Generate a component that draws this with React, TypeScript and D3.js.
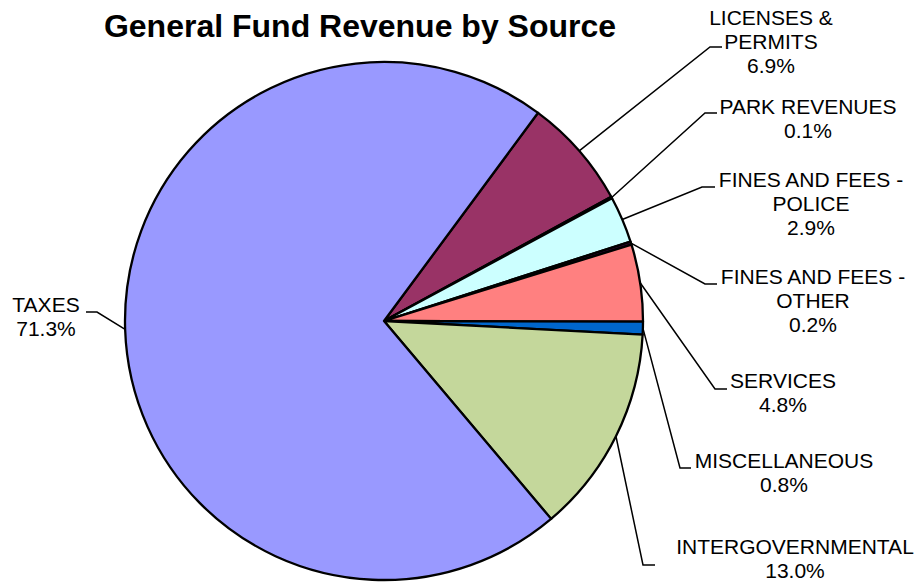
import React from "react";
import * as d3 from "d3";

const categories = [
  "LICENSES & PERMITS",
  "PARK REVENUES",
  "FINES AND FEES - POLICE",
  "FINES AND FEES - OTHER",
  "SERVICES",
  "MISCELLANEOUS",
  "INTERGOVERNMENTAL",
  "TAXES",
];
const values = [6.9, 0.1, 2.9, 0.2, 4.8, 0.8, 13.0, 71.3];
const colors = ["#993366", "#FFFFCC", "#CCFFFF", "#330033", "#FF8080", "#0066CC", "#C4D79B", "#9999FF"];
const labelLines = [
  ["LICENSES &", "PERMITS"],
  ["PARK REVENUES"],
  ["FINES AND FEES -", "POLICE"],
  ["FINES AND FEES -", "OTHER"],
  ["SERVICES"],
  ["MISCELLANEOUS"],
  ["INTERGOVERNMENTAL"],
  ["TAXES"],
];

// layout of labels: text center x, first baseline y, elbow point, horizontal end
const labelLayout = [
  { tx: 771, ty: 25, ex: 710, ey: 47, hx: 722 },
  { tx: 808, ty: 114, ex: 705, ey: 113, hx: 717 },
  { tx: 811, ty: 187, ex: 702, ey: 187, hx: 715 },
  { tx: 813, ty: 284, ex: 705, ey: 284, hx: 717 },
  { tx: 783, ty: 388, ex: 715, ey: 389, hx: 727 },
  { tx: 784, ty: 468, ex: 680, ey: 468, hx: 691 },
  { tx: 795, ty: 554, ex: 643, ey: 565, hx: 655 },
  { tx: 46, ty: 312, ex: 97, ey: 312, hx: 86 },
];

const W = 921;
const H = 584;
const cx = 384;
const cy = 321;
const R = 259;
const startDeg = 36.5;

export default function App() {
  const start = (startDeg * Math.PI) / 180;
  const pie = d3
    .pie<number>()
    .sort(null)
    .value((d) => d)
    .startAngle(start)
    .endAngle(start + 2 * Math.PI);
  const arcs = pie(values);
  const arcGen = d3.arc<d3.PieArcDatum<number>>().innerRadius(0).outerRadius(R);
  const lineH = 24;
  const font = "'Liberation Sans', Arial, sans-serif";

  return (
    <svg
      width={W}
      height={H}
      style={{ position: "absolute", left: 0, top: 0, background: "#fff" }}
      fontFamily={font}
    >
      <text x={360} y={37} textAnchor="middle" fontWeight="bold" fontSize={32} fill="#000">
        General Fund Revenue by Source
      </text>
      <g transform={`translate(${cx},${cy})`}>
        {arcs.map((a, i) => (
          <path key={i} d={arcGen(a) || ""} fill={colors[i]} stroke="#000" strokeWidth={2.3} strokeLinejoin="round" />
        ))}
      </g>
      {arcs.map((a, i) => {
        const mid = (a.startAngle + a.endAngle) / 2;
        const sx = cx + R * Math.sin(mid);
        const sy = cy - R * Math.cos(mid);
        const L = labelLayout[i];
        const lines = [...labelLines[i], `${values[i].toFixed(1)}%`];
        return (
          <g key={i}>
            <polyline
              points={`${sx},${sy} ${L.ex},${L.ey} ${L.hx},${L.ey}`}
              fill="none"
              stroke="#000"
              strokeWidth={1.5}
            />
            <text textAnchor="middle" fontSize={21} fill="#000">
              {lines.map((ln, j) => (
                <tspan key={j} x={L.tx} y={L.ty + j * lineH}>
                  {ln}
                </tspan>
              ))}
            </text>
          </g>
        );
      })}
    </svg>
  );
}
